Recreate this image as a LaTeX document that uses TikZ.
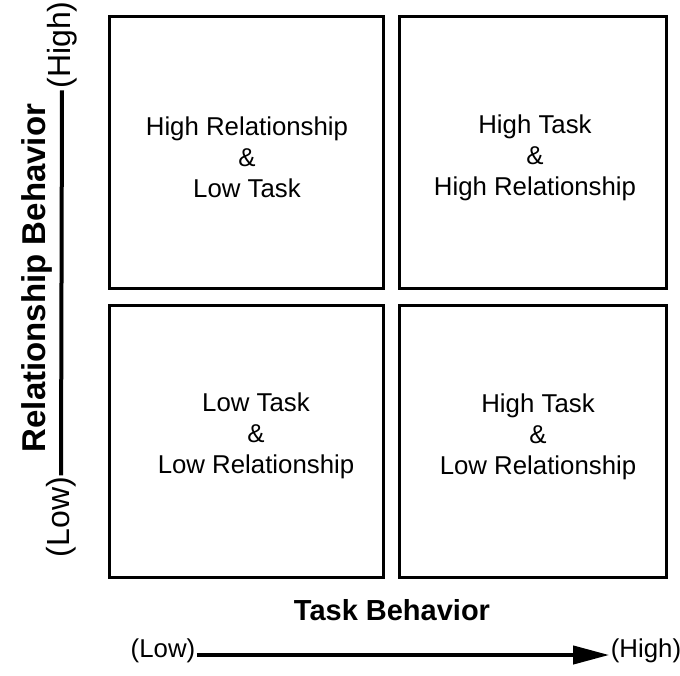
\documentclass[tikz,border=0pt]{standalone}
\usepackage{fontspec}
\setmainfont{Liberation Sans}
\usetikzlibrary{arrows.meta}
\tikzset{
  quad/.style={draw=black, line width=3pt, minimum width=#1, minimum height=272pt, inner sep=0pt},
  quadtext/.style={align=center, font=\fontsize{25.8}{31}\selectfont, inner sep=0pt},
  vlabel/.style={rotate=90, font=\fontsize{32}{38}\selectfont, inner sep=1.5pt},
  hlabel/.style={font=\fontsize{25.8}{31}\selectfont, inner sep=1.5pt},
  axisline/.style={line width=4pt}
}
\begin{document}
\begin{tikzpicture}[x=1pt,y=-1pt]
\useasboundingbox (0,0) rectangle (680,675);
% quadrants
\node[quad=274pt] (tl) at (246,152) {};
\node[quad=267pt] (tr) at (532.5,152) {};
\node[quad=274pt] (bl) at (246,441) {};
\node[quad=267pt] (br) at (532.5,441) {};
% quadrant texts
\node[quadtext] (tltext) at (247,157) {High Relationship\\\&\\Low Task};
\node[quadtext] (trtext) at (535,158) {High Task\\\&\\High Relationship};
\node[quadtext] (bltext) at (256,436) {Low Task\\\&\\Low Relationship};
\node[quadtext] (brtext) at (538,437) {High Task\\\&\\Low Relationship};
% vertical axis
\node[vlabel] (vhigh) at (62,45) {(High)};
\node[vlabel] (vlow) at (61,517) {(Low)};
\node[rotate=90, font=\bfseries\fontsize{33}{38}\selectfont] (vtitle) at (37,278) {Relationship Behavior};
\draw[axisline] (vlow.east) -- (vhigh.west);
% horizontal axis
\node[hlabel] (hlow) at (163,651) {(Low)};
\node[hlabel] (hhigh) at (646,651) {(High)};
\node[font=\bfseries\fontsize{29}{34}\selectfont] (htitle) at (392,610) {Task Behavior};
\draw[axisline, -{Triangle[length=36pt,width=18pt]}] ([yshift=-4pt]hlow.east) -- ([yshift=-4pt]hhigh.west);
\end{tikzpicture}
\end{document}
